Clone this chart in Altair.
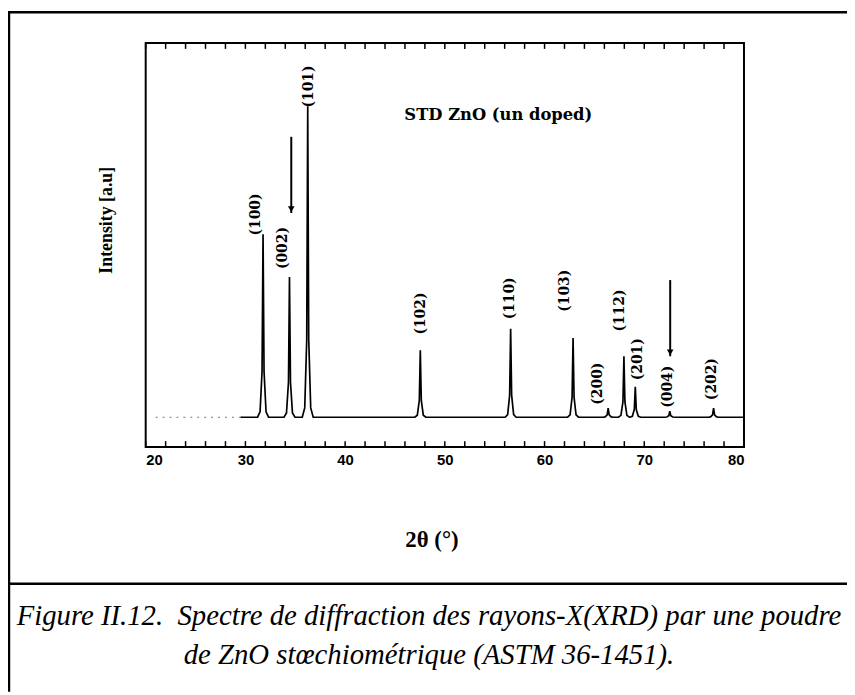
import altair as alt
import pandas as pd

# ---- data ----
two_theta = [31.77, 34.42, 36.25, 47.54, 56.60, 62.86, 66.38, 67.96, 69.10, 72.56, 76.95]
intensity = [60, 46, 102, 22, 29, 26, 3, 20, 10, 2, 3]
hkl = ["(100)", "(002)", "(101)", "(102)", "(110)", "(103)", "(200)", "(112)", "(201)", "(004)", "(202)"]
label_x = [31.1, 33.8, 36.4, 47.6, 56.5, 62.1, 65.4, 67.6, 69.4, 72.4, 76.8]
label_y = [66.5, 55.5, 108.5, 34.0, 39.0, 41.5, 11.0, 35.0, 19.0, 10.0, 12.5]
arrow_x = [34.6, 72.6]
arrow_top = [92, 45]
arrow_tip = [67, 20]
# peak profile template (offset in degrees, fraction of peak height)
profile_offset = [-0.55, -0.3, -0.1, 0.0, 0.1, 0.3, 0.55]
profile_frac = [0.0, 0.03, 0.25, 1.0, 0.25, 0.03, 0.0]
scan_start, scan_solid, scan_end = 21.0, 29.5, 80.0
x_ticks_major = [20.0, 30.0, 40.0, 50.0, 60.0, 70.0, 80.0]
x_ticks_minor = [22.0, 24.0, 26.0, 28.0, 32.0, 34.0, 36.0, 38.0, 42.0, 44.0, 46.0, 48.0,
                 52.0, 54.0, 56.0, 58.0, 62.0, 64.0, 66.0, 68.0, 72.0, 74.0, 76.0, 78.0]

W, H = 604, 408
XDOM = [20, 80]
YDOM = [-9.8, 122.8]

rows = [{"x": scan_solid, "y": 0.0}]
for p, h in zip(two_theta, intensity):
    for o, f in zip(profile_offset, profile_frac):
        rows.append({"x": p + o, "y": h * f})
rows.append({"x": scan_end, "y": 0.0})
spec_df = pd.DataFrame(rows)
dot_df = pd.DataFrame({"x": [scan_start, scan_solid], "y": [0.0, 0.0]})
lab_df = pd.DataFrame({"x": label_x, "y": label_y, "t": hkl})
arr_df = pd.DataFrame({"x": arrow_x, "y": arrow_top, "y2": arrow_tip})
tick_df = pd.DataFrame({"x": x_ticks_major + x_ticks_minor})

xs = alt.Scale(domain=XDOM, nice=False, zero=False)
ys = alt.Scale(domain=YDOM, nice=False, zero=False)

xaxis = alt.Axis(values=x_ticks_major, domain=False, ticks=False, grid=False,
                 labelFont="Liberation Sans", labelFontWeight="bold", labelFontSize=15,
                 labelColor="black", labelPadding=6, title=None, format="d")
X = lambda f="x:Q": alt.X(f, scale=xs, axis=xaxis)
Y = lambda f="y:Q": alt.Y(f, scale=ys, axis=None)

spectrum = alt.Chart(spec_df).mark_line(color="black", strokeWidth=1.7).encode(x=X(), y=Y())
dotted = alt.Chart(dot_df).mark_line(color="#777777", strokeWidth=1.2, strokeDash=[2, 5]).encode(
    x=X(), y=Y())
labels = alt.Chart(lab_df).mark_text(angle=270, font="DejaVu Serif", fontWeight="bold",
                                     fontSize=14, align="center", baseline="middle",
                                     color="black").encode(x=X(), y=Y(), text="t:N")
arrow_shaft = alt.Chart(arr_df).mark_rule(color="black", strokeWidth=2).encode(
    x=X(), y=Y(), y2="y2:Q")
arrow_head = alt.Chart(arr_df).mark_point(shape="triangle-down", filled=True, color="black",
                                          size=45, opacity=1, yOffset=-4).encode(
    x=X(), y=Y("y2:Q"))

# inward frame ticks (bottom and top)
ticks_bottom = alt.Chart(tick_df).mark_rule(color="black", strokeWidth=1.5).encode(
    x=X(), y=alt.value(H), y2=alt.value(H - 6))
ticks_top = alt.Chart(tick_df).mark_rule(color="black", strokeWidth=1.5).encode(
    x=X(), y=alt.value(0), y2=alt.value(6))

# fixed page decorations (texts and frame lines)
deco_texts = pd.DataFrame({
    "t": ["STD ZnO (un doped)", "Intensity [a.u]", "2θ (°)",
          "Figure II.12.\u00a0\u00a0Spectre de diffraction des rayons-X(XRD) par une poudre",
          "de ZnO stœchiométrique (ASTM 36-1451)."],
})


def txt(i, x, y, **kw):
    return alt.Chart(deco_texts.iloc[[i]]).mark_text(color="black", **kw).encode(
        x=alt.value(x), y=alt.value(y), text="t:N")


std_text = txt(0, 356, 73, font="DejaVu Serif", fontWeight="bold",
               fontSize=16.5, align="center", baseline="middle")
ytitle = txt(1, -39, 179, angle=270, font="Liberation Serif", fontWeight="bold",
             fontSize=18, align="center", baseline="middle")
xtitle = txt(2, 289, 509, font="Liberation Serif", fontWeight="bold", fontSize=23,
             align="center", baseline="alphabetic")
cap1 = txt(3, 286, 588, font="Liberation Serif", fontStyle="italic", fontSize=29,
           align="center", baseline="alphabetic")
cap2 = txt(4, 286, 627, font="Liberation Serif", fontStyle="italic", fontSize=29,
           align="center", baseline="alphabetic")

one = pd.DataFrame({"a": [0]})


def hline(y, x1, x2, w=2.5):
    return alt.Chart(one).mark_rule(color="black", strokeWidth=w).encode(
        x=alt.value(x1), x2=alt.value(x2), y=alt.value(y))


def vline(x, y1, y2, w=2.5):
    return alt.Chart(one).mark_rule(color="black", strokeWidth=w).encode(
        x=alt.value(x), y=alt.value(y1), y2=alt.value(y2))


box_top = hline(-31, -139, 712)
box_left = vline(-138, -32, 655)
box_sep = hline(546, -139, 712)

chart = alt.layer(
    spectrum, dotted, labels, arrow_shaft, arrow_head, ticks_bottom, ticks_top,
    std_text, ytitle, xtitle, cap1, cap2,
    box_top, box_left, box_sep,
).properties(
    width=W, height=H,
    background="white",
    autosize=alt.AutoSizeParams(type="none"),
    padding={"left": 139, "top": 32, "right": 847 - 139 - W, "bottom": 247},
).configure_view(stroke="black", strokeWidth=2)

chart.save("out.html", embed_options={"renderer": "svg", "actions": False})
